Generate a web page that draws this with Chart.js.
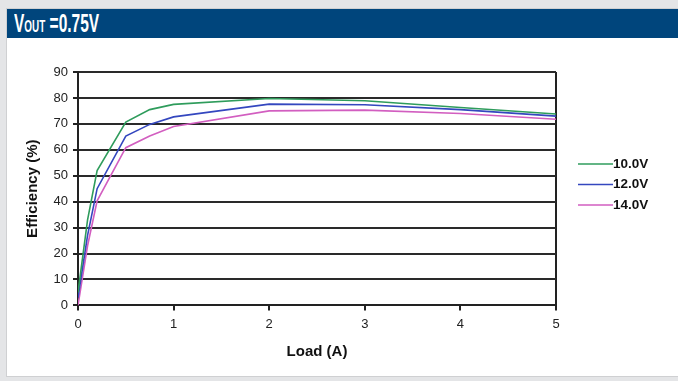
<!DOCTYPE html>
<html>
<head>
<meta charset="utf-8">
<script src="https://cdn.jsdelivr.net/npm/chart.js@4"></script>
<style>
  html, body { margin: 0; padding: 0; }
  body { width: 678px; height: 381px; background: #e4e5e7; position: relative; overflow: hidden; }
  #panel { position: absolute; left: 6px; top: 8px; width: 680px; height: 367px; background: #fff; border: 1px solid #cfd0d2; }
  #header { position: absolute; left: 7px; top: 9px; width: 680px; height: 29px; background: #00457c; }
  #title { position: absolute; left: 14px; top: 10px; color: #fff; font-family: "Liberation Sans", Arial, sans-serif; font-weight: bold; font-size: 25px; line-height: 26px; transform: scaleX(0.62); transform-origin: 0 0; white-space: nowrap; }
  #title .sc { font-size: 16px; }
  #wrap { position: absolute; left: 0; top: 40px; width: 678px; height: 335px; }
</style>
</head>
<body>
<div id="panel"></div>
<div id="header"></div>
<div id="title">V<span class="sc">OUT</span> =0.75V</div>
<div id="wrap"><canvas id="effChart"></canvas></div>
<script>
// load current (A)
var loadA = [0, 0.1, 0.2, 0.5, 0.75, 1, 2, 3, 4, 5];
var eff10V = [5, 33, 52, 70.7, 75.5, 77.5, 79.8, 78.9, 76.3, 73.8];
var eff12V = [3, 27, 45, 65.3, 69.8, 72.7, 77.6, 77.4, 75.5, 73];
var eff14V = [0, 23, 40.3, 60.8, 65.3, 69, 75, 75.3, 74, 71.8];
var seriesNames = ["10.0V", "12.0V", "14.0V"];
var seriesColors = ["#2f9c5c", "#3447bf", "#d25ec0"];

function toPts(ys) {
    var pts = [];
    for (var i = 0; i < loadA.length; i++) pts.push({ x: loadA[i], y: ys[i] });
    return pts;
}

// simple legend drawn beside the plot
var sideLegend = {
    id: 'sideLegend',
    afterDraw: function (chart) {
        var c = chart.ctx;
        var x0 = chart.chartArea.right + 22;
        var y0 = 124;
        c.save();
        c.font = 'bold 13.5px "Liberation Sans", Arial, sans-serif';
        c.textBaseline = 'middle';
        chart.data.datasets.forEach(function (ds, i) {
            var y = y0 + i * 20.5;
            c.strokeStyle = ds.borderColor;
            c.lineWidth = 1.5;
            c.beginPath();
            c.moveTo(x0, y);
            c.lineTo(x0 + 35, y);
            c.stroke();
            c.fillStyle = '#111';
            c.fillText(ds.label, x0 + 35, y);
        });
        c.restore();
    }
};

var ctx = document.getElementById("effChart");
var myChart = new Chart(ctx, {
    type: 'line',
    data: {
        datasets: [
            { label: seriesNames[0], data: toPts(eff10V), borderColor: seriesColors[0] },
            { label: seriesNames[1], data: toPts(eff12V), borderColor: seriesColors[1] },
            { label: seriesNames[2], data: toPts(eff14V), borderColor: seriesColors[2] }
        ]
    },
    options: {
        responsive: true,
        maintainAspectRatio: false,
        animation: false,
        layout: { padding: { top: 32, right: 122, left: 24, bottom: 14 } },
        elements: {
            line: { borderWidth: 1.6, tension: 0, fill: false },
            point: { radius: 0 }
        },
        plugins: {
            legend: { display: false },
            tooltip: { enabled: false }
        },
        scales: {
            x: {
                type: 'linear',
                min: 0, max: 5,
                ticks: {
                    stepSize: 1,
                    color: '#222',
                    padding: 6,
                    font: { family: '"Liberation Sans", Arial, sans-serif', size: 13 }
                },
                grid: {
                    color: function (c) { return c.tick && c.tick.value === 5 ? '#222' : 'rgba(0,0,0,0)'; },
                    lineWidth: 2,
                    tickColor: '#222',
                    tickLength: 5
                },
                border: { color: '#222', width: 2 },
                title: {
                    display: true,
                    text: 'Load (A)',
                    color: '#111',
                    padding: { top: 5, bottom: 0 },
                    font: { family: '"Liberation Sans", Arial, sans-serif', size: 15, weight: 'bold' }
                }
            },
            y: {
                min: 0, max: 90,
                afterFit: function (s) { s.width = 54; },
                ticks: {
                    stepSize: 10,
                    color: '#222',
                    padding: 5,
                    font: { family: '"Liberation Sans", Arial, sans-serif', size: 13 }
                },
                grid: {
                    color: '#2a2a2a',
                    lineWidth: 2,
                    tickColor: '#222',
                    tickLength: 5
                },
                border: { color: '#222', width: 2 },
                title: {
                    display: true,
                    text: 'Efficiency (%)',
                    color: '#111',
                    padding: { top: 0, bottom: 0 },
                    font: { family: '"Liberation Sans", Arial, sans-serif', size: 15, weight: 'bold' }
                }
            }
        }
    },
    plugins: [sideLegend]
});
</script>
</body>
</html>
